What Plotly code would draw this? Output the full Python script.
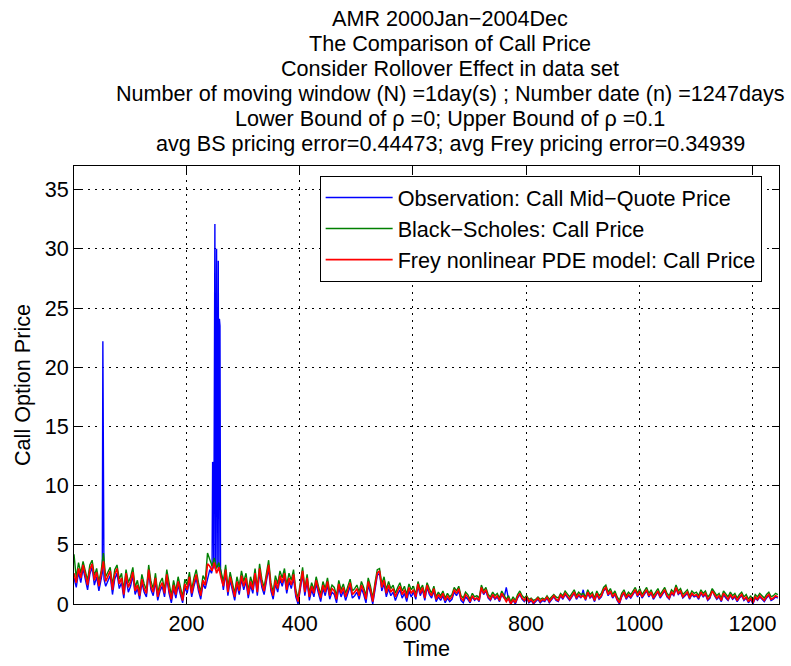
import plotly.graph_objects as go

TIME = list(range(1, 1248, 4))  # trading days 1..1245

RED_ROWS = [
    [2.6, 1.8, 3.0, 2.2, 3.3, 2.5, 1.6, 2.9, 3.4, 2.0, 2.7, 1.5, 2.4, 3.6, 1.9, 2.3, 2.8, 1.2, 2.5, 3.0, 1.7, 2.2, 0.8, 2.6, 1.4],
    [1.9, 2.7, 1.1, 1.6, 0.7, 2.1, 1.3, 0.9, 2.9, 1.5, 1.0, 2.2, 0.6, 1.4, 1.8, 0.9, 2.5, 1.2, 0.4, 1.6, 0.8, 1.9, 1.1, 0.3, 1.7],
    [1.2, 2.3, 0.9, 1.8, 2.5, 1.4, 0.7, 2.0, 1.6, 3.4, 3.2, 2.8, 3.5, 2.6, 3.1, 2.2, 1.5, 2.9, 1.0, 2.3, 1.3, 0.6, 1.9, 1.1, 2.4],
    [1.5, 2.2, 0.8, 1.9, 1.2, 2.6, 1.0, 3.0, 1.7, 1.1, 2.3, 3.3, 1.4, 0.7, 2.0, 1.3, 2.4, 1.8, 2.6, 1.2, 2.2, 1.6, 2.5, 0.9, 0.2],
    [1.4, 2.8, 1.0, 2.2, 0.6, 1.5, 0.9, 2.0, 1.2, 0.5, 1.6, 1.0, 1.9, 0.7, 1.3, 1.1, 0.4, 1.7, 0.9, 1.4, 0.6, 1.2, 1.8, 0.8, 1.0],
    [1.3, 0.7, 1.6, 1.1, 0.4, 1.9, 1.2, 0.2, 1.5, 2.6, 2.8, 1.4, 2.0, 0.9, 1.6, 1.0, 1.3, 0.6, 1.1, 1.5, 0.8, 1.2, 0.5, 1.4, 0.9],
    [1.2, 0.6, 1.7, 0.9, 1.4, 0.5, 1.6, 1.0, 0.7, 1.3, 0.4, 0.8, 0.5, 0.9, 0.3, 0.7, 0.4, 0.6, 1.2, 0.9, 1.3, 0.5, 0.3, 0.8, 0.6],
    [0.2, 0.7, 0.4, 0.5, 0.3, 1.4, 0.9, 1.2, 0.6, 0.4, 0.8, 0.5, 0.7, 0.3, 0.9, 0.6, 0.2, 0.5, 0.0, 0.4, 0.1, 0.6, 0.9, 0.5, 0.3],
    [0.6, 0.2, 0.4, 0.1, 0.3, 0.5, 0.2, 0.4, 0.3, 0.6, 0.2, 0.5, 0.7, 0.4, 0.3, 0.8, 0.5, 0.9, 0.6, 0.4, 0.7, 1.0, 0.5, 0.8, 0.6],
    [0.7, 0.4, 1.0, 0.6, 0.8, 0.3, 0.9, 0.5, 0.7, 1.2, 1.4, 0.8, 1.1, 0.6, 0.9, 0.4, 0.1, 0.7, 1.0, 0.5, 0.8, 0.6, 0.9, 1.2, 0.7],
    [1.1, 0.6, 0.9, 1.2, 0.7, 1.0, 0.5, 0.8, 1.1, 0.6, 0.9, 1.2, 0.7, 0.5, 1.0, 0.8, 1.4, 0.9, 1.1, 0.6, 0.8, 1.0, 0.5, 0.9, 0.7],
    [0.8, 0.5, 1.0, 0.7, 0.9, 0.4, 0.6, 1.1, 0.8, 0.5, 0.7, 0.3, 0.9, 0.6, 0.4, 0.8, 0.5, 0.7, 0.3, 0.6, 0.8, 0.4, 0.6, 0.2, 0.5],
    [0.1, 0.6, 0.4, 0.7, 0.5, 0.3, 0.6, 0.8, 0.4, 0.5, 0.7, 0.6],
]

GREEN_ROWS = [
    [4.2, 2.2, 3.5, 2.6, 3.6, 2.9, 2.0, 3.3, 3.7, 2.4, 3.0, 1.9, 2.8, 4.3, 2.3, 2.7, 3.1, 1.6, 2.9, 3.3, 2.1, 2.6, 1.2, 2.9, 1.8],
    [2.3, 3.1, 1.4, 2.0, 1.0, 2.5, 1.7, 1.2, 3.3, 1.9, 1.3, 2.6, 0.9, 1.8, 2.2, 1.2, 2.9, 1.6, 0.7, 2.0, 1.1, 2.3, 1.4, 0.6, 2.1],
    [1.6, 2.7, 1.2, 2.2, 2.9, 1.8, 1.0, 2.4, 2.0, 4.3, 3.7, 3.2, 3.9, 3.0, 3.5, 2.6, 1.9, 3.3, 1.4, 2.7, 1.7, 0.9, 2.3, 1.5, 2.8],
    [1.9, 2.6, 1.1, 2.3, 1.6, 3.0, 1.3, 3.4, 2.1, 1.4, 2.7, 3.7, 1.8, 1.0, 2.4, 1.7, 2.8, 2.2, 3.0, 1.6, 2.6, 2.0, 2.9, 1.2, 0.5],
    [1.7, 3.1, 1.3, 2.5, 0.9, 1.8, 1.2, 2.3, 1.5, 0.8, 1.9, 1.3, 2.2, 1.0, 1.6, 1.4, 0.7, 2.0, 1.2, 1.7, 0.9, 1.5, 2.1, 1.1, 1.3],
    [1.6, 1.0, 1.9, 1.4, 0.7, 2.2, 1.5, 0.5, 1.8, 2.9, 3.0, 1.7, 2.3, 1.2, 1.9, 1.3, 1.6, 0.9, 1.4, 1.8, 1.1, 1.5, 0.8, 1.7, 1.2],
    [1.5, 0.8, 1.9, 1.2, 1.6, 0.8, 1.8, 1.3, 0.9, 1.5, 0.6, 1.0, 0.7, 1.1, 0.5, 0.9, 0.6, 0.8, 1.4, 1.1, 1.5, 0.7, 0.5, 1.0, 0.8],
    [0.4, 0.9, 0.6, 0.7, 0.5, 1.6, 1.1, 1.4, 0.8, 0.6, 1.0, 0.7, 0.9, 0.5, 1.1, 0.8, 0.4, 0.7, 0.2, 0.6, 0.3, 0.8, 1.1, 0.7, 0.5],
    [0.7, 0.4, 0.5, 0.3, 0.4, 0.6, 0.4, 0.5, 0.4, 0.7, 0.4, 0.6, 0.8, 0.6, 0.5, 0.9, 0.7, 1.1, 0.8, 0.6, 0.9, 1.2, 0.7, 1.0, 0.8],
    [0.9, 0.6, 1.2, 0.8, 1.0, 0.5, 1.1, 0.7, 0.9, 1.4, 1.6, 1.0, 1.3, 0.8, 1.1, 0.6, 0.3, 0.9, 1.2, 0.7, 1.0, 0.8, 1.1, 1.4, 0.9],
    [1.3, 0.8, 1.1, 1.4, 0.9, 1.2, 0.7, 1.0, 1.3, 0.8, 1.1, 1.4, 0.9, 0.7, 1.2, 1.0, 1.6, 1.1, 1.3, 0.8, 1.0, 1.2, 0.7, 1.1, 0.9],
    [1.0, 0.7, 1.2, 0.9, 1.1, 0.6, 0.8, 1.3, 1.0, 0.7, 0.9, 0.5, 1.1, 0.8, 0.6, 1.0, 0.7, 0.9, 0.5, 0.8, 1.0, 0.6, 0.8, 0.4, 0.7],
    [0.3, 0.8, 0.6, 0.9, 0.7, 0.5, 0.8, 1.0, 0.6, 0.7, 0.9, 0.8],
]

BLUE_ROWS = [
    [2.2, 1.4, 2.7, 1.8, 3.0, 2.1, 1.2, 2.5, 3.1, 1.6, 2.3, 1.1, 2.0, 3.2, 1.5, 1.9, 2.4, 0.8, 2.1, 2.6, 1.3, 1.8, 0.5, 2.2, 1.0],
    [1.5, 2.4, 0.8, 1.3, 0.4, 1.8, 1.0, 0.6, 2.6, 1.2, 0.7, 1.9, 0.3, 1.1, 1.5, 0.6, 2.2, 0.9, 0.1, 1.3, 0.5, 1.6, 0.8, 0.1, 1.4],
    [0.9, 2.0, 0.6, 1.5, 2.2, 1.1, 0.4, 1.7, 1.3, 2.1, 2.9, 2.5, 3.2, 2.3, 2.8, 1.9, 1.2, 2.6, 0.7, 2.0, 1.0, 0.3, 1.6, 0.8, 2.1],
    [1.2, 1.9, 0.5, 1.6, 0.9, 2.3, 0.7, 2.7, 1.4, 0.8, 2.0, 3.0, 1.1, 0.4, 1.7, 1.0, 2.1, 1.5, 2.3, 0.9, 1.9, 1.3, 2.2, 0.6, 0.0],
    [1.1, 2.5, 0.7, 1.9, 0.3, 1.2, 0.6, 1.7, 0.9, 0.2, 1.3, 0.7, 1.6, 0.4, 1.0, 0.8, 0.1, 1.4, 0.6, 1.1, 0.3, 0.9, 1.5, 0.5, 0.7],
    [1.0, 0.4, 1.3, 0.8, 0.1, 1.6, 0.9, 0.0, 1.2, 2.4, 2.6, 1.1, 1.7, 0.6, 1.3, 0.7, 1.0, 0.3, 0.8, 1.2, 0.5, 0.9, 0.2, 1.1, 0.6],
    [1.0, 0.4, 1.5, 0.7, 1.2, 0.3, 1.4, 0.8, 0.5, 1.1, 0.2, 0.6, 0.3, 0.7, 0.1, 0.5, 0.2, 0.4, 1.0, 0.7, 1.1, 0.3, 0.1, 0.6, 0.4],
    [0.1, 0.6, 0.3, 0.5, 0.2, 1.3, 0.8, 1.1, 0.5, 0.3, 0.7, 0.4, 0.6, 0.2, 0.8, 0.5, 1.4, 0.4, 0.0, 0.3, 0.0, 0.5, 0.8, 0.4, 0.2],
    [0.5, 0.1, 0.3, 0.0, 0.2, 0.4, 0.1, 0.3, 0.2, 0.5, 0.1, 0.4, 0.6, 0.3, 0.2, 0.7, 0.4, 0.8, 0.5, 0.3, 0.6, 0.9, 0.4, 0.7, 0.5],
    [1.2, 0.3, 0.9, 0.5, 0.7, 0.2, 0.8, 0.4, 0.6, 1.1, 1.3, 0.7, 1.0, 0.5, 0.8, 0.3, 0.0, 0.6, 0.9, 0.4, 0.7, 0.5, 0.8, 1.1, 0.6],
    [1.0, 0.5, 0.8, 1.1, 0.6, 0.9, 0.4, 0.7, 1.0, 0.5, 0.8, 1.1, 0.6, 0.4, 0.9, 0.7, 1.3, 0.8, 1.0, 0.5, 0.7, 0.9, 0.4, 0.8, 0.6],
    [0.7, 0.4, 0.9, 0.6, 0.8, 0.3, 0.5, 1.2, 0.7, 0.4, 0.6, 0.2, 0.8, 0.5, 0.3, 0.7, 0.4, 0.6, 0.2, 0.5, 0.7, 0.3, 0.5, 0.1, 0.4],
    [0.0, 0.5, 0.3, 0.6, 0.4, 0.2, 0.5, 0.7, 0.3, 0.4, 0.6, 0.5],
]

# daily observations around the two quote spikes (blue series only)
SPIKE_DAYS = [50, 51, 52, 53, 54,
              244, 245, 246, 247, 248, 249, 250, 251, 252, 253, 254, 255, 256, 257, 258, 259, 260, 261]
SPIKE_VALUES = [2.4, 2.6, 22.2, 9.9, 2.1,
                2.6, 2.8, 12.0, 11.9, 3.0, 30.5, 32.1, 2.9, 28.5, 30.0, 3.1, 27.0, 29.0, 2.8, 24.1, 23.5, 3.0, 2.7]

TITLE_LINES = [
    "AMR 2000Jan\u22122004Dec",
    "The Comparison of Call Price",
    "Consider Rollover Effect in data set",
    "Number of moving window (N) =1day(s) ; Number date (n) =1247days",
    "Lower Bound of \u03c1 =0; Upper Bound of \u03c1 =0.1",
    "avg BS pricing error=0.44473; avg Frey pricing error=0.34939",
]
NAMES = ["Observation: Call Mid\u2212Quote Price", "Black\u2212Scholes: Call Price",
         "Frey nonlinear PDE model: Call Price"]
X_TICKS = [200, 400, 600, 800, 1000, 1200]
Y_TICKS = [0, 5, 10, 15, 20, 25, 30, 35]

# ---------------- build ----------------
red = [v for row in RED_ROWS for v in row]
green = [v for row in GREEN_ROWS for v in row]
blue = [v for row in BLUE_ROWS for v in row]

blue_pts = dict(zip(TIME, blue))
blue_pts.update(dict(zip(SPIKE_DAYS, SPIKE_VALUES)))
blue_x = sorted(blue_pts)
blue_y = [blue_pts[d] for d in blue_x]

FONT = "Liberation Sans, Arial, Helvetica, sans-serif"
FS = 21.6

fig = go.Figure()
fig.add_trace(go.Scatter(x=blue_x, y=blue_y, mode="lines", name=NAMES[0],
                         line=dict(color="#0000ff", width=1.4)))
fig.add_trace(go.Scatter(x=TIME[:len(green)], y=green, mode="lines", name=NAMES[1],
                         line=dict(color="#008000", width=1.4)))
fig.add_trace(go.Scatter(x=TIME[:len(red)], y=red, mode="lines", name=NAMES[2],
                         line=dict(color="#ff0000", width=1.7)))

L, R, T, B = 74, 11, 166, 60
W, H = 791, 666
ph = H - T - B

annotations = []
centers = [18, 43, 68, 93, 118, 143]
for txt, yc in zip(TITLE_LINES, centers):
    annotations.append(dict(text=txt, xref="paper", yref="paper",
                            x=(451 - L) / (W - L - R), y=(H - B - yc) / ph,
                            xanchor="center", yanchor="middle", showarrow=False,
                            font=dict(size=FS, color="#000000", family=FONT)))

axis_common = dict(showline=True, linecolor="#000000", linewidth=1, mirror="ticks",
                   ticks="inside", ticklen=7, tickcolor="#000000",
                   showgrid=True, gridcolor="#000000", gridwidth=1, griddash="2px,5px",
                   zeroline=False, tickfont=dict(size=FS, color="#000000", family=FONT))

fig.update_layout(
    width=W, height=H,
    margin=dict(l=L, r=R, t=T, b=B, pad=0),
    paper_bgcolor="white", plot_bgcolor="white",
    font=dict(family=FONT, size=FS, color="#000000"),
    annotations=annotations,
    showlegend=True,
    legend=dict(x=(320 - L) / (W - L - R), y=(H - B - 176) / ph, xanchor="left", yanchor="top",
                bgcolor="white", bordercolor="#000000", borderwidth=1,
                font=dict(size=FS, color="#000000", family=FONT),
                tracegroupgap=0, itemwidth=67),
    xaxis=dict(range=[1, 1247], tickvals=X_TICKS, title=dict(text="Time", standoff=4,
               font=dict(size=FS, family=FONT)), **axis_common),
    yaxis=dict(range=[0, 37], tickvals=Y_TICKS, title=dict(text="Call Option Price", standoff=8,
               font=dict(size=FS, family=FONT)), **axis_common),
)

fig.write_html("out.html")
